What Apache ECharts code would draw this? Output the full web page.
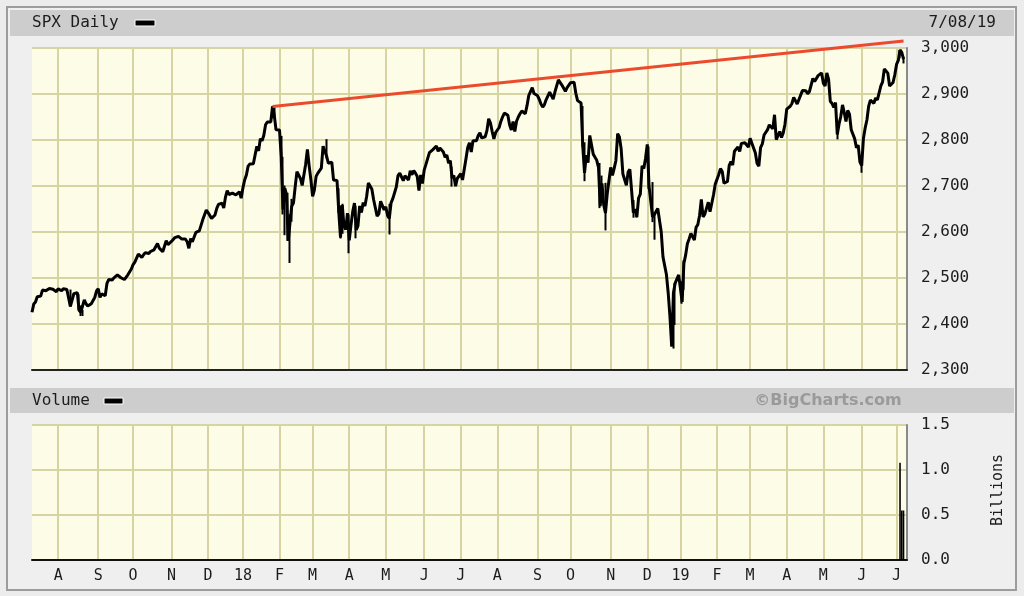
<!DOCTYPE html>
<html><head><meta charset="utf-8">
<script src="https://cdn.jsdelivr.net/npm/echarts@6/dist/echarts.min.js"></script>
<style>html,body{margin:0;padding:0;background:#ececec}#c{width:1024px;height:596px}</style>
</head><body><div id="c"></div>
<script>
// ---------- data ----------
const firstDay = '2017-07-11';
const lastSlot = '2019-07-10';   // axis runs two empty sessions past the last bar (2019-07-08)
const holidays = ['2017-09-04','2017-11-23','2017-12-25','2018-01-01','2018-01-15','2018-02-19','2018-03-30',
  '2018-05-28','2018-07-04','2018-09-03','2018-11-22','2018-12-05','2018-12-25','2019-01-01','2019-01-21',
  '2019-02-18','2019-04-19','2019-05-27','2019-07-04'];
const monthLetters = ['J','F','M','A','M','J','J','A','S','O','N','D'];

const close2017 = [
  2425.5,2443.3,2447.8,2459.3,2459.1,2460.6,2473.8,2473.5,2472.5,2469.9,2477.1,2477.8,2475.4,2472.1,2470.3,
  2476.4,2477.6,2472.2,2476.8,2480.9,2474.9,2474.0,2438.2,2441.3,2465.8,2464.6,2468.1,2430.0,2425.6,2428.4,2452.5,2444.0,2439.0,2443.1,2444.2,2446.3,2457.6,2471.7,
  2476.6,2457.9,2465.5,2465.1,2461.4,2488.1,2496.5,2498.4,2495.6,2500.2,2503.9,2506.7,2508.2,2500.6,2502.2,2496.7,2496.8,2507.0,2510.1,2519.4,
  2529.1,2534.6,2537.7,2552.1,2549.3,2544.7,2550.6,2555.2,2550.9,2553.2,2557.6,2559.4,2561.3,2562.1,2575.2,2565.0,2569.1,2557.2,2560.4,2581.1,2572.8,2575.3,
  2579.4,2579.9,2587.8,2591.1,2590.6,2594.4,2584.6,2582.3,2584.8,2578.9,2564.6,2585.6,2578.9,2582.1,2599.0,2597.1,2602.4,2601.4,2627.0,2626.1,2647.6,
  2642.2,2639.4,2629.6,2629.3,2637.0,2651.5,2660.0,2664.1,2662.9,2652.0,2675.8,2690.2,2681.5,2679.1,2684.6,2683.3,2680.5,2682.6,2687.5,2673.6
];
const close2018 = [
  2695.8,2713.1,2724.0,2743.2,2747.7,2751.3,2748.2,2767.6,2786.2,2776.4,2802.6,2798.0,2810.3,2833.0,2839.1,2837.5,2839.3,2872.9,2853.5,2822.4,2823.8,
  2822.0,2762.1,2648.9,2695.1,2681.7,2581.0,2619.6,2656.0,2662.9,2698.6,2731.2,2732.2,2716.3,2701.3,2704.0,2747.3,2779.6,2744.3,2713.8,
  2677.7,2691.3,2720.9,2728.1,2726.8,2739.0,2786.6,2783.0,2765.3,2749.5,2747.3,2752.0,2712.9,2716.9,2711.9,2643.7,2588.3,2658.6,2612.6,2605.0,2640.9,
  2581.9,2614.5,2644.7,2662.8,2604.5,2613.2,2656.9,2642.2,2664.0,2656.3,2677.8,2706.4,2708.6,2693.1,2670.1,2670.3,2634.6,2639.4,2666.9,2669.9,2648.1,
  2654.8,2635.7,2629.7,2663.4,2672.6,2671.9,2697.8,2723.1,2727.7,2730.1,2711.5,2722.5,2720.1,2713.0,2733.0,2724.4,2733.3,2727.8,2721.3,2689.9,2724.0,2705.3,
  2734.6,2746.9,2748.8,2772.4,2770.4,2779.0,2782.0,2786.9,2775.6,2782.5,2779.7,2773.9,2762.6,2767.3,2749.8,2754.9,2717.1,2723.1,2699.6,2716.3,2718.4,
  2726.7,2713.2,2736.6,2759.8,2784.2,2793.8,2774.0,2798.3,2801.3,2798.4,2809.6,2815.6,2804.5,2801.8,2807.0,2820.4,2846.1,2837.4,2818.8,2802.6,2816.3,
  2813.4,2827.2,2840.4,2850.4,2858.5,2857.7,2853.6,2833.3,2821.9,2840.0,2818.4,2840.7,2850.1,2857.1,2863.0,2861.8,2857.0,2874.7,2896.7,2897.5,2914.0,2901.1,2901.5,
  2896.7,2888.6,2878.1,2871.7,2877.1,2887.9,2888.9,2904.2,2905.0,2888.8,2904.3,2908.0,2930.8,2929.7,2919.4,2915.6,2906.0,2914.0,2914.0,
  2924.6,2923.4,2925.5,2901.6,2885.6,2884.4,2880.3,2785.7,2728.4,2767.1,2750.8,2809.9,2809.2,2768.8,2767.8,2755.9,2740.7,2656.1,2705.6,2658.7,2641.3,2682.6,2711.7,
  2740.4,2723.1,2738.3,2755.5,2813.9,2806.8,2781.0,2726.2,2722.2,2701.6,2730.2,2736.3,2690.7,2641.9,2649.9,2632.6,2673.5,2682.2,2743.8,2737.8,2760.2,
  2790.4,2700.1,2696.0,2633.1,2637.7,2636.8,2651.1,2650.5,2600.0,2545.9,2546.2,2507.0,2467.4,2416.6,2351.1,2467.7,2488.8,2485.7,2506.9
];
const close2019 = [
  2510.0,2447.9,2531.9,2549.7,2574.4,2585.0,2596.6,2596.3,2582.6,2610.3,2616.1,2636.0,2670.7,2632.9,2638.7,2642.3,2664.8,2643.9,2640.0,2681.1,2704.1,
  2706.5,2724.9,2737.7,2731.6,2706.1,2707.9,2709.8,2744.7,2753.0,2745.7,2775.6,2779.8,2784.7,2774.9,2792.7,2796.1,2793.9,2792.4,2784.5,
  2803.7,2792.8,2789.7,2771.5,2748.9,2743.1,2783.3,2791.5,2810.9,2808.5,2822.5,2832.9,2832.6,2824.2,2854.9,2800.7,2798.4,2818.5,2805.4,2815.4,2834.4,
  2867.2,2867.2,2873.4,2879.4,2892.7,2895.8,2878.2,2888.2,2888.3,2907.4,2905.6,2907.1,2900.5,2905.0,2908.0,2933.7,2927.3,2926.2,2939.9,2943.0,2945.8,
  2923.7,2917.5,2945.6,2932.5,2884.1,2879.4,2870.7,2881.4,2811.9,2834.4,2851.0,2876.3,2859.5,2840.2,2864.4,2856.3,2822.2,2826.1,2802.4,2783.0,2788.9,2752.1,
  2744.5,2803.3,2826.2,2843.5,2873.3,2886.7,2885.7,2879.8,2891.6,2887.0,2889.7,2917.8,2926.5,2954.2,2950.5,2945.4,2917.4,2913.8,2924.9,2941.8,
  2964.3,2973.0,2995.8,2990.4,2976.0
];
// sessions whose intraday range reaches well beyond the close
const rangeDates = ['2017-08-10','2017-08-17','2017-08-18','2017-08-21','2018-01-26','2018-01-29','2018-02-02','2018-02-05',
  '2018-02-06','2018-02-08','2018-02-09','2018-02-12','2018-03-13','2018-03-22','2018-03-23','2018-03-26','2018-04-02',
  '2018-04-06','2018-05-03','2018-06-25','2018-10-10','2018-10-11','2018-10-24','2018-10-25','2018-10-29','2018-11-20',
  '2018-11-23','2018-12-04','2018-12-07','2018-12-10','2018-12-24','2018-12-26','2018-12-27','2019-01-03','2019-01-04',
  '2019-05-13','2019-06-03','2019-07-03','2019-07-08'];
const rangeLow  = [2437.8,2430.0,2417.4,2417.4,2847.5,2851.5,2759.1,2638.2,2593.1,2580.6,2532.7,2622.5,2760.0,2641.6,2585.9,2596.1,2553.8,
  2586.3,2594.6,2698.7,2784.9,2710.5,2651.9,2681.4,2603.5,2631.1,2631.5,2693.6,2621.5,2583.2,2351.1,2346.6,2397.9,2444.0,2474.3,
  2801.4,2728.8,2977.9,2966.4];
const rangeHigh = [2474.9,2465.0,2440.3,2430.6,2872.9,2870.6,2808.9,2763.4,2701.0,2685.3,2638.7,2672.1,2801.9,2695.3,2657.7,2661.4,2638.3,
  2656.9,2661.4,2742.0,2874.0,2795.1,2750.0,2722.7,2706.9,2669.4,2647.6,2785.9,2708.5,2642.0,2410.3,2467.8,2489.1,2493.1,2538.1,
  2840.2,2763.1,2995.8,2980.8];
const volumeDates  = ['2019-07-03','2019-07-05','2019-07-08'];
const volumeValues = [1.08, 0.55, 0.55];   // billions
const trendStart = ['2018-01-26', 2872.9];
const trendEnd   = ['2019-07-08', 3015];
const priceMin = 2300, priceMax = 3000, priceStep = 100;
const volMin = 0, volMax = 1.5, volStep = 0.5;

// ---------- build ----------
const cats = [];
(function(){
  let t = Date.parse(firstDay + 'T00:00:00Z');
  const end = Date.parse(lastSlot + 'T00:00:00Z');
  while (t <= end) {
    const d = new Date(t); const s = d.toISOString().slice(0,10); const wd = d.getUTCDay();
    if (wd !== 0 && wd !== 6 && holidays.indexOf(s) < 0) cats.push(s);
    t += 86400000;
  }
})();
const closes = close2017.concat(close2018, close2019);
const rangeData = cats.map((d,i) => { const k = rangeDates.indexOf(d); return k < 0 ? '-' : [closes[i], closes[i], rangeLow[k], rangeHigh[k]]; });
const volData = cats.map(d => { const k = volumeDates.indexOf(d); return k < 0 ? '-' : volumeValues[k]; });
const trendData = [[cats.indexOf(trendStart[0]), trendStart[1]], [cats.indexOf(trendEnd[0]), trendEnd[1]]];
const isMonthStart = (i, v) => i > 0 && v.slice(5,7) !== cats[i-1].slice(5,7);

const FONT = '"DejaVu Sans Mono", monospace';
const plotBg = '#fdfde7', gridCol = '#d5d4a2', txt = '#1c1c1c';

const chart = echarts.init(document.getElementById('c'), null, {renderer:'canvas'});
chart.setOption({
  animation: false,
  backgroundColor: '#ececec',
  grid: [
    {left: 32, right: 117, top: 48, height: 322, show: true, backgroundColor: plotBg, borderWidth: 0},
    {left: 32, right: 117, top: 425, height: 135, show: true, backgroundColor: plotBg, borderWidth: 0}
  ],
  xAxis: [
    {type:'category', gridIndex:0, data: cats, boundaryGap:false,
     axisLine:{show:true, lineStyle:{color:'#222', width:2}}, axisTick:{show:false}, axisLabel:{show:false},
     splitLine:{show:true, interval: isMonthStart, lineStyle:{color:gridCol, width:2}}},
    {type:'category', gridIndex:1, data: cats, boundaryGap:false,
     axisLine:{show:true, lineStyle:{color:'#111', width:2}}, axisTick:{show:false},
     axisLabel:{show:true, interval: isMonthStart, margin: 9, color: txt, fontFamily: FONT, fontSize: 15,
       formatter: v => { const m = +v.slice(5,7); return m === 1 ? v.slice(2,4) : monthLetters[m-1]; }},
     splitLine:{show:true, interval: isMonthStart, lineStyle:{color:gridCol, width:2}}}
  ],
  yAxis: [
    {type:'value', gridIndex:0, position:'right', min: priceMin, max: priceMax, interval: priceStep,
     axisLine:{show:true, lineStyle:{color:'#8a8a8a', width:2}}, axisTick:{show:false},
     axisLabel:{margin: 14, color: txt, fontFamily: FONT, fontSize: 16, formatter: v => v.toLocaleString('en-US')},
     splitLine:{show:true, lineStyle:{color:gridCol, width:2}}},
    {type:'value', gridIndex:1, position:'right', min: volMin, max: volMax, interval: volStep,
     axisLine:{show:true, lineStyle:{color:'#8a8a8a', width:2}}, axisTick:{show:false},
     axisLabel:{margin: 14, color: txt, fontFamily: FONT, fontSize: 16, formatter: v => v.toFixed(1)},
     splitLine:{show:true, lineStyle:{color:gridCol, width:2}}}
  ],
  series: [
    {type:'line', name:'SPX', xAxisIndex:0, yAxisIndex:0, data: closes, showSymbol:false, symbol:'none',
     lineStyle:{color:'#000', width:3}, silent:true},
    {type:'candlestick', xAxisIndex:0, yAxisIndex:0, data: rangeData, barMaxWidth: 1, silent:true,
     itemStyle:{color:'#000', color0:'#000', borderColor:'#000', borderColor0:'#000', borderWidth: 2}},
    {type:'line', name:'trend', xAxisIndex:0, yAxisIndex:0, data: trendData, showSymbol:false, symbol:'none',
     clip:false, silent:true, z:5, lineStyle:{color:'#ec4a2c', width:3}},
    {type:'bar', name:'Volume', xAxisIndex:1, yAxisIndex:1, data: volData, barWidth: 1.6, silent:true,
     itemStyle:{color:'#000'}}
  ],
  graphic: [
    {type:'rect', z:-5, shape:{x:7, y:7, width:1009, height:583}, style:{fill:'#efefef', stroke:'#9c9c9c', lineWidth:2}},
    {type:'rect', z:-4, shape:{x:10, y:10, width:1004, height:26}, style:{fill:'#cdcdcd'}},
    {type:'rect', z:-4, shape:{x:10, y:388, width:1004, height:25}, style:{fill:'#cdcdcd'}},
    {type:'text', x:32, y:23, style:{text:'SPX Daily', font:'16px ' + FONT, fill:txt, align:'left', verticalAlign:'middle'}},
    {type:'rect', shape:{x:135, y:20, width:20, height:6}, style:{fill:'#000', stroke:'#fff', lineWidth:1}},
    {type:'text', x:996, y:23, style:{text:'7/08/19', font:'16px ' + FONT, fill:txt, align:'right', verticalAlign:'middle'}},
    {type:'text', x:32, y:401, style:{text:'Volume', font:'16px ' + FONT, fill:txt, align:'left', verticalAlign:'middle'}},
    {type:'rect', shape:{x:104, y:398, width:19, height:6}, style:{fill:'#000', stroke:'#fff', lineWidth:1}},
    {type:'text', x:828, y:401, style:{text:'©BigCharts.com', font:'bold 16px "DejaVu Sans", sans-serif', fill:'#9a9a9a', align:'center', verticalAlign:'middle'}},
    {type:'text', x:998, y:490, rotation: Math.PI/2, style:{text:'Billions', font:'15px ' + FONT, fill:txt, align:'center', verticalAlign:'middle'}}
  ]
});
</script></body></html>
